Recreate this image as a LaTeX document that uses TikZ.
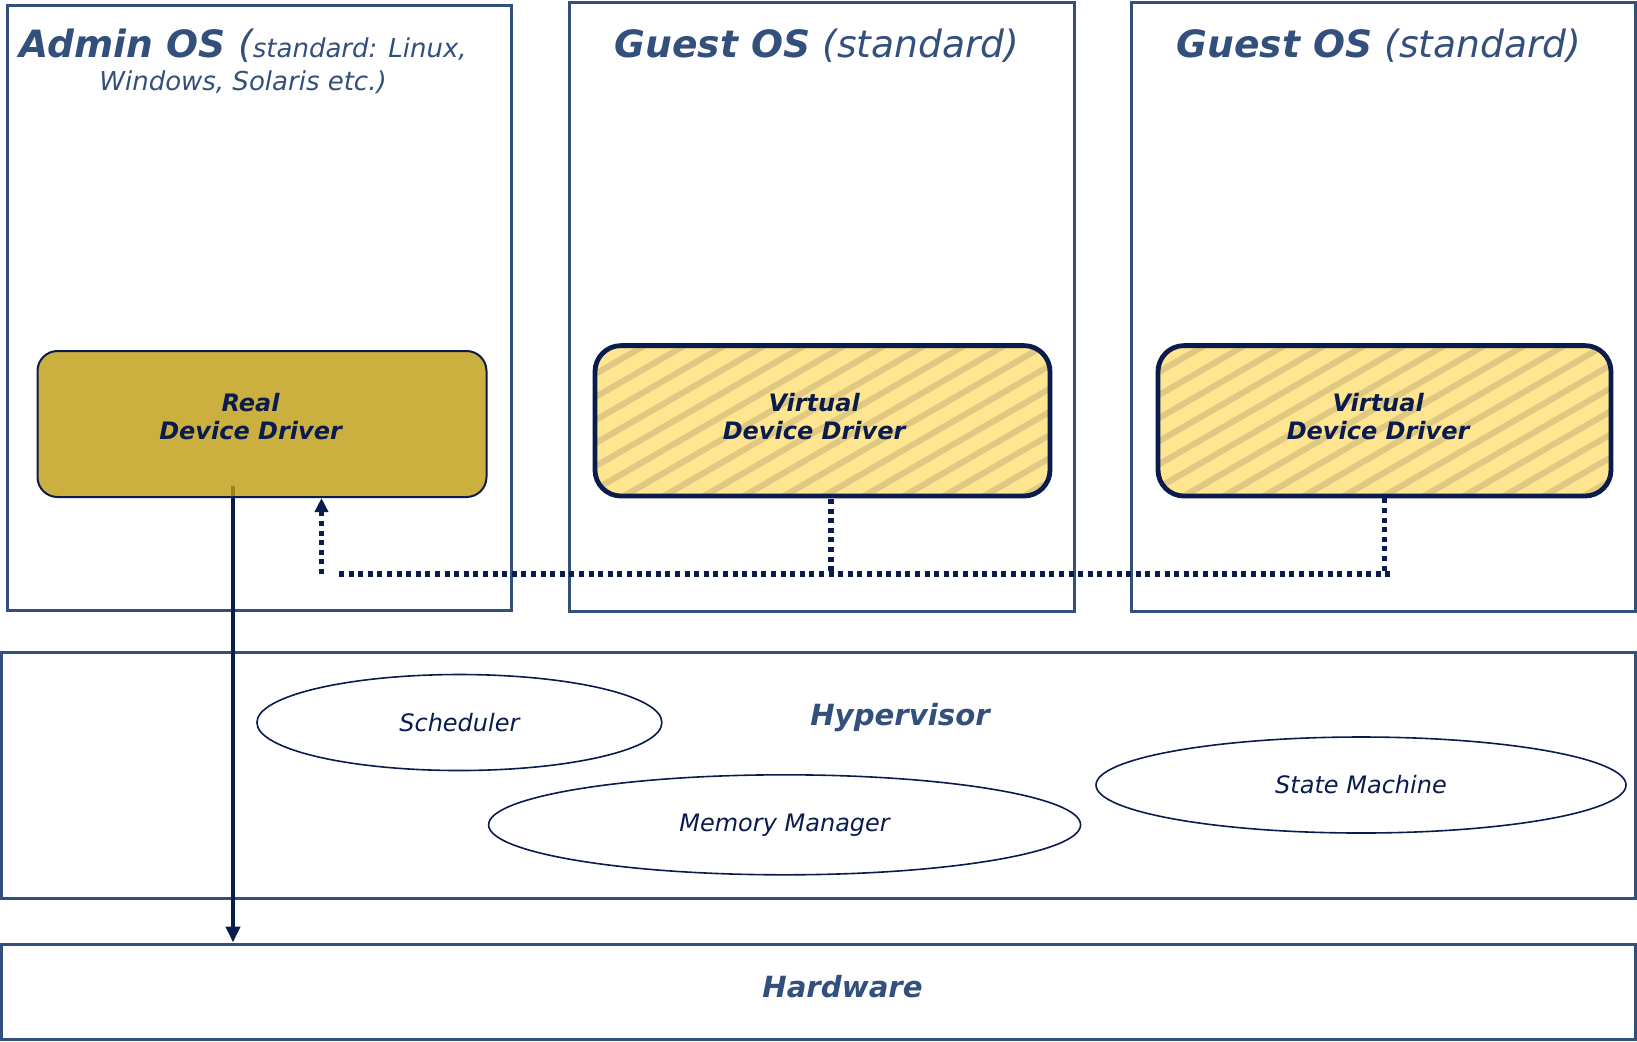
\documentclass[tikz,border=0pt]{standalone}
\usepackage{fontspec}
\setmainfont{DejaVu Sans}
\usetikzlibrary{shapes.geometric, arrows.meta, patterns.meta}
\definecolor{osblue}{RGB}{51,79,124}
\definecolor{navy}{RGB}{10,28,78}
\definecolor{gold}{RGB}{190,156,16}
\definecolor{pale}{RGB}{255,229,143}
\definecolor{stripe}{RGB}{222,200,130}

\begin{document}
\begin{tikzpicture}[x=.5pt, y=-.5pt,
    osbox/.style={draw=osblue, line width=1.5pt, inner sep=0pt},
    drvtext/.style={inner sep=0pt, align=center, text=navy, font=\fontsize{12}{14}\selectfont\bfseries\itshape},
    realdrv/.style={draw=navy, line width=1pt, rounded corners=10pt, fill=gold, fill opacity=.8, text opacity=1},
    virtdrv/.style={draw=navy, line width=2.4pt, rounded corners=13pt, preaction={fill=pale},
      pattern={Lines[angle=30, distance=10pt, line width=3pt]}, pattern color=stripe},
    module/.style={ellipse, draw=navy, line width=.8pt, inner sep=0pt, text=navy, font=\fontsize{12}{14}\selectfont\itshape},
    title/.style={anchor=base, inner sep=0pt, text=osblue, font=\fontsize{18.8}{22}\selectfont\itshape},
    layertitle/.style={anchor=base, inner sep=0pt, text=osblue, font=\fontsize{14.6}{17}\selectfont\bfseries\itshape},
    link/.style={draw=navy, line width=2.6pt, dash pattern=on 2.5pt off 2.3pt}]
  \useasboundingbox (0,0) rectangle (1637,1041);

  \node[osbox, minimum width=252pt, minimum height=302.8pt] (admin) at (259.5,308) {};
  \node[osbox, minimum width=252.5pt, minimum height=304.5pt] (guesta) at (821.5,306.5) {};
  \node[osbox, minimum width=252pt, minimum height=304.5pt] (guestb) at (1383,306.5) {};
  \node[osbox, minimum width=816.75pt, minimum height=122.75pt] (hyper) at (818.25,775.25) {};
  \node[osbox, minimum width=816.75pt, minimum height=47.5pt] (hw) at (818.25,991.5) {};

  \node[anchor=north, align=center, inner sep=0pt, text=osblue, font=\fontsize{13}{16.2}\selectfont\itshape] (admint) at (243,29)
    {{\fontsize{18.8}{16.2}\selectfont\bfseries Admin OS \mdseries(}standard: Linux,\\Windows, Solaris etc.)};
  \node[title] (guestat) at (817,57.5) {\textbf{Guest OS} (standard)};
  \node[title] (guestbt) at (1379,57.5) {\textbf{Guest OS} (standard)};
  \node[layertitle] (hypert) at (900,725.6) {Hypervisor};
  \node[layertitle] (hwt) at (842.5,997) {Hardware};

  \coordinate (rddout) at (233,485.5);
  \draw[navy, line width=2pt, -{Triangle[length=8pt, width=7pt]}] (rddout) -- (rddout |- hw.north);

  \node[realdrv, minimum width=224.5pt, minimum height=73pt,
    label={[drvtext, xshift=-5.7pt, yshift=3.6pt]center:Real\\Device Driver}] (rdd) at (262,424) {};
  \node[virtdrv, minimum width=227.5pt, minimum height=75.2pt,
    label={[drvtext, xshift=-4.2pt, yshift=2pt]center:Virtual\\Device Driver}] (vdda) at (822.5,420.8) {};
  \node[virtdrv, minimum width=226.5pt, minimum height=75.2pt,
    label={[drvtext, xshift=-3.2pt, yshift=2pt]center:Virtual\\Device Driver}] (vddb) at (1384.5,420.8) {};

  \node[module, minimum width=202.5pt, minimum height=48pt] (sched) at (459.4,722.5) {Scheduler};
  \node[module, minimum width=296pt, minimum height=50pt] (memm) at (784.6,824.8) {Memory Manager};
  \node[module, minimum width=265pt, minimum height=48pt] (statem) at (1361,785) {State Machine};

  \coordinate (busl) at (339,574);
  \coordinate (busr) at (1394,574);
  \coordinate (uptail) at (321.5,574);
  \draw[link] (busl) -- (busr);
  \draw[link] ([xshift=4.25pt]vdda.south) -- ([xshift=4.25pt]vdda.south |- busl);
  \draw[link] (vddb.south) -- (vddb.south |- busl);
  \draw[link, -{Triangle[length=7pt, width=6.5pt]}] (uptail) -- (uptail |- rdd.south);
\end{tikzpicture}
\end{document}
